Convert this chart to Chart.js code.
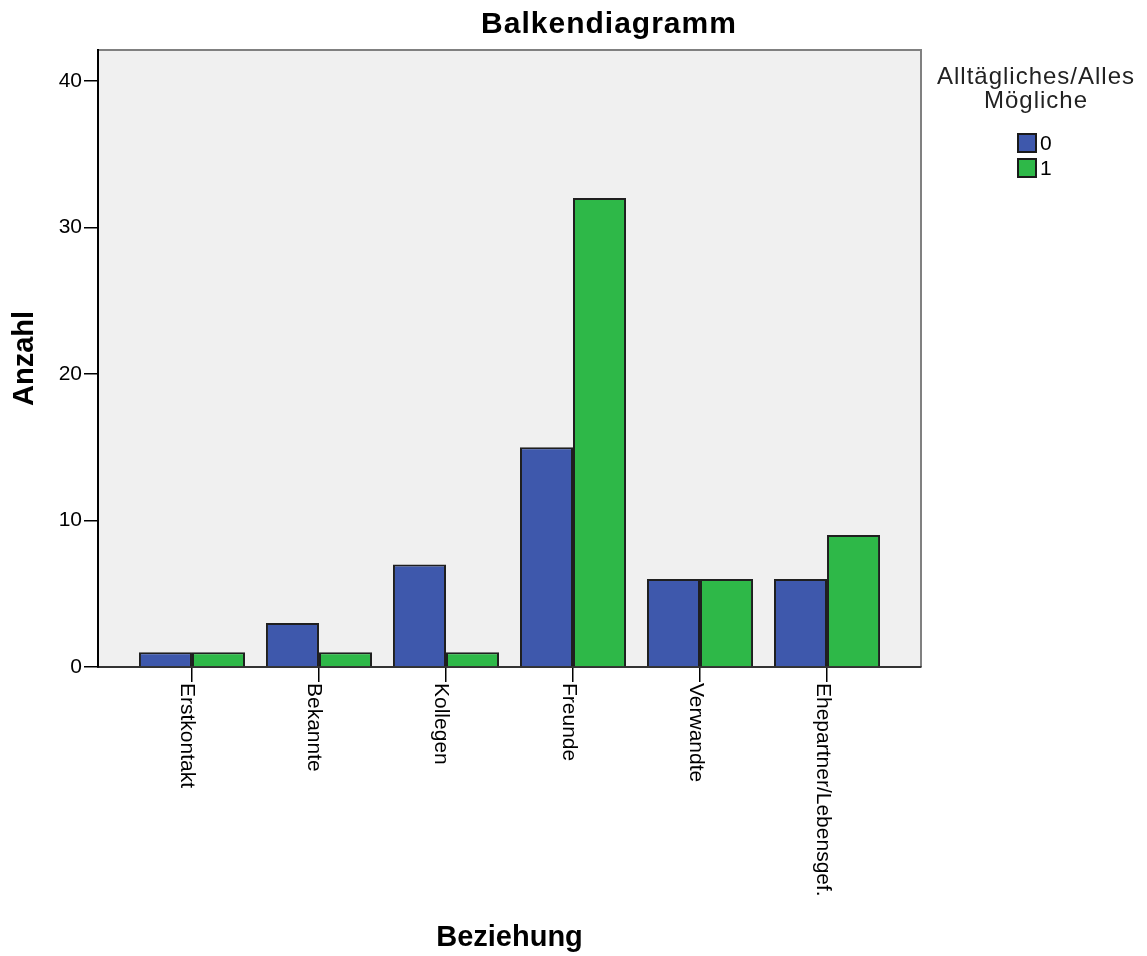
<!DOCTYPE html>
<html><head><meta charset="utf-8">
<script src="https://cdn.jsdelivr.net/npm/chart.js@4.4.1/dist/chart.umd.min.js"></script>
<style>html,body{margin:0;padding:0;background:#fff}#wrap{width:1147px;height:956px}</style>
</head><body><div id="wrap"><canvas id="c" width="1147" height="956"></canvas></div>
<script>
const categories = ['Erstkontakt','Bekannte','Kollegen','Freunde','Verwandte','Ehepartner/Lebensgef.'];
const series0 = [1,3,7,15,6,6];
const series1 = [1,1,1,32,6,9];
const seriesNames = ['0','1'];
const seriesColors = ['#3E58AC','#2EB848'];
const yTicks = [0,10,20,30,40];
const yMax = 42.1;
const chartTitle = 'Balkendiagramm';
const legendTitle = ['Alltägliches/Alles','Mögliche'];
const xTitle = 'Beziehung';
const yTitle = 'Anzahl';
const FONT = "Arial, 'Liberation Sans', sans-serif";

const framePlugin = {
  id: 'frame',
  beforeDraw(chart) {
    const {ctx, chartArea: a} = chart;
    ctx.save();
    ctx.fillStyle = '#F0F0F0';
    ctx.fillRect(a.left, a.top, a.right - a.left, a.bottom - a.top);
    ctx.strokeStyle = '#808080';
    ctx.lineWidth = 2;
    ctx.beginPath();
    ctx.moveTo(a.left, a.top);
    ctx.lineTo(a.right, a.top);
    ctx.lineTo(a.right, a.bottom);
    ctx.stroke();
    ctx.restore();
  },
  afterDraw(chart) {
    const {ctx} = chart;
    const xs = chart.scales.x;
    ctx.save();
    ctx.fillStyle = '#000';
    ctx.font = 'bold 30px ' + FONT;
    ctx.letterSpacing = '1px';
    ctx.textAlign = 'center';
    ctx.textBaseline = 'middle';
    ctx.fillText(chartTitle, 609, 25);
    ctx.letterSpacing = '0px';
    ctx.font = '21px ' + FONT;
    ctx.textAlign = 'left';
    ctx.textBaseline = 'alphabetic';
    categories.forEach((lab, i) => {
      const x = xs.getPixelForTick(i);
      ctx.save();
      ctx.translate(x, xs.top + 16);
      ctx.rotate(Math.PI / 2);
      ctx.fillText(lab, 0, 10.5);
      ctx.restore();
    });
    ctx.font = '24px ' + FONT;
    ctx.letterSpacing = '1px';
    ctx.textAlign = 'center';
    ctx.textBaseline = 'middle';
    ctx.fillStyle = '#222';
    legendTitle.forEach((t, i) => ctx.fillText(t, 1036, 77 + i * 24));
    ctx.letterSpacing = '0px';
    ctx.font = '21px ' + FONT;
    ctx.textAlign = 'left';
    seriesNames.forEach((n, i) => {
      const y = 134 + i * 25;
      ctx.fillStyle = seriesColors[i];
      ctx.fillRect(1018, y, 18, 18);
      ctx.strokeStyle = '#1a1a1a';
      ctx.lineWidth = 2;
      ctx.strokeRect(1018, y, 18, 18);
      ctx.fillStyle = '#000';
      ctx.fillText(n, 1040, y + 10);
    });
    ctx.restore();
  }
};

new Chart(document.getElementById('c'), {
  type: 'bar',
  data: {
    labels: categories,
    datasets: [
      {label: seriesNames[0], data: series0, backgroundColor: seriesColors[0], borderColor: '#1f1f1f', borderWidth: 2},
      {label: seriesNames[1], data: series1, backgroundColor: seriesColors[1], borderColor: '#1f1f1f', borderWidth: 2}
    ]
  },
  options: {
    responsive: false,
    devicePixelRatio: 1,
    animation: false,
    categoryPercentage: 0.835,
    barPercentage: 1.0,
    layout: {padding: {top: 50, right: 226, bottom: 0, left: 0}},
    plugins: {legend: {display: false}, tooltip: {enabled: false}, title: {display: false}},
    scales: {
      x: {
        type: 'category',
        offset: true,
        afterBuildTicks(s) { s._startValue = -0.74; s._valueRange = 6.48; },
        afterFit(s) { s.height = 289; },
        grid: {display: true, offset: false, drawOnChartArea: false, drawTicks: true, tickLength: 15, color: '#000', lineWidth: 1.5},
        border: {display: true, color: '#333', width: 2},
        ticks: {display: false},
        title: {display: true, text: xTitle, color: '#000', font: {family: FONT, size: 29, weight: 'bold'}, padding: {top: 0, bottom: 1}}
      },
      y: {
        min: 0,
        max: yMax,
        afterBuildTicks(s) { s.ticks = yTicks.map(v => ({value: v})); },
        afterFit(s) { s.width = 98; },
        grid: {display: true, drawOnChartArea: false, drawTicks: true, tickLength: 14, color: '#000', lineWidth: 1.5},
        border: {display: true, color: '#000', width: 2},
        ticks: {color: '#000', padding: 2, font: {family: FONT, size: 21}},
        title: {display: true, text: yTitle, color: '#000', font: {family: FONT, size: 29, weight: 'bold'}, padding: {top: 8, bottom: 0}}
      }
    }
  },
  plugins: [framePlugin]
});
</script>
</body></html>
